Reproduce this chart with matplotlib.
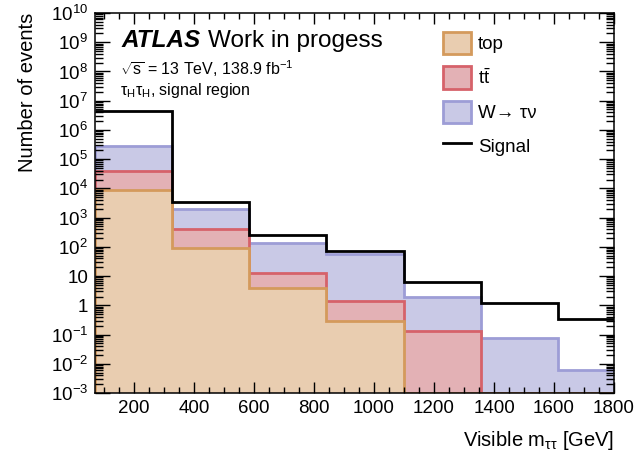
import numpy as np
import matplotlib
matplotlib.use("Agg")
import matplotlib.pyplot as plt
from matplotlib.patches import Patch
from matplotlib.lines import Line2D
from matplotlib.ticker import FuncFormatter, LogLocator, MultipleLocator

plt.rcParams["font.family"] = ["Liberation Sans", "DejaVu Sans"]
plt.rcParams["mathtext.fontset"] = "custom"
plt.rcParams["mathtext.rm"] = "Liberation Sans"
plt.rcParams["mathtext.it"] = "Liberation Sans:italic"
plt.rcParams["mathtext.bf"] = "Liberation Sans:bold"

# visible di-tau mass binning [GeV]
bin_edges = [70, 327, 584, 841, 1099, 1356, 1613, 1870]

# per-bin event yields
top_vals = [9.0e3, 93, 3.9, 0.29, 0, 0, 0]
ttbar_vals = [3.1e4, 320, 9.1, 1.1, 0.13, 0, 0]
wtaunu_vals = [2.4e5, 1.6e3, 127, 55, 1.8, 0.078, 0.0062]
signal_vals = [4.3e6, 3.5e3, 260, 72, 6.3, 1.2, 0.35]

sample_labels = ["top", r"t$\mathregular{\bar{t}}$", "W\u2192 \u03c4\u03bd", "Signal"]

YMIN, YMAX = 1e-3, 1e10
XMIN, XMAX = 70, 1800

fig = plt.figure(figsize=(6.36, 4.57), dpi=100)
ax = fig.add_axes([95 / 636, 1 - 393 / 457, 519 / 636, 380 / 457])

edges = np.array(bin_edges, dtype=float)
top = np.array(top_vals)
ttbar = np.array(ttbar_vals)
wtaunu = np.array(wtaunu_vals)

# stack: total first, then progressively smaller sums on top of it
layers = [
    (top + ttbar + wtaunu, "#c9c9e6", "#9d9dd6"),
    (top + ttbar, "#e3b1b5", "#d6626a"),
    (top, "#e9cdb0", "#d49a5c"),
]
for cum, fc, ec in layers:
    y = np.where(cum > 0, cum, YMIN)
    ax.stairs(y, edges, baseline=YMIN, fill=True, facecolor=fc,
              edgecolor=ec, linewidth=2.0)

ax.stairs(signal_vals, edges, baseline=None, color="black", linewidth=2.0)

ax.set_yscale("log")
ax.set_xlim(XMIN, XMAX)
ax.set_ylim(YMIN, YMAX)


def log_fmt(v, pos):
    e = int(round(np.log10(v)))
    if e == 0:
        return "1"
    if e == 1:
        return "10"
    return r"$\mathregular{10^{%d}}$" % e


ax.yaxis.set_major_locator(LogLocator(base=10, numticks=30))
ax.yaxis.set_minor_locator(LogLocator(base=10, subs=np.arange(2, 10), numticks=30))
ax.yaxis.set_major_formatter(FuncFormatter(log_fmt))
ax.xaxis.set_major_locator(MultipleLocator(200))
ax.xaxis.set_minor_locator(MultipleLocator(50))

ax.tick_params(axis="both", which="both", direction="in", top=True, right=True,
               labelsize=13.5, width=1.0)
ax.tick_params(axis="y", which="major", length=11, pad=5)
ax.tick_params(axis="y", which="minor", length=5.5)
ax.tick_params(axis="x", which="major", length=8, pad=5)
ax.tick_params(axis="x", which="minor", length=4)
for s in ax.spines.values():
    s.set_linewidth(1.1)

ax.text(-0.131, 1.0, "Number of events", rotation=90, ha="center", va="top",
        fontsize=14.5, transform=ax.transAxes)
ax.text(1.0, -0.125, r"Visible m$\mathregular{_{\tau\tau}}$ [GeV]", ha="right",
        va="center", fontsize=14.5, transform=ax.transAxes)

atlas = ax.text(0.052, 0.911, "ATLAS", fontsize=17.5, fontweight="bold",
                fontstyle="italic", va="baseline", transform=ax.transAxes)
ax.annotate("Work in progess", xy=(1, 0), xycoords=atlas, xytext=(5, 0),
            textcoords="offset points", fontsize=17.5, va="bottom")
ax.text(0.048, 0.837, r"$\mathregular{\sqrt{s}}$ = 13 TeV, 138.9 fb$\mathregular{^{-1}}$",
        fontsize=11.5, va="baseline", transform=ax.transAxes)
ax.text(0.048, 0.784, r"$\mathregular{\tau_{H}\tau_{H}}$, signal region",
        fontsize=11.5, va="baseline", transform=ax.transAxes)

handles = [
    Patch(facecolor="#e9cdb0", edgecolor="#d49a5c", linewidth=2.0),
    Patch(facecolor="#e3b1b5", edgecolor="#d6626a", linewidth=2.0),
    Patch(facecolor="#c9c9e6", edgecolor="#9d9dd6", linewidth=2.0),
    Line2D([], [], color="black", linewidth=2.0),
]
ax.legend(handles, sample_labels, loc="upper left", bbox_to_anchor=(0.6705, 0.95),
          frameon=False, fontsize=13.5, borderpad=0, borderaxespad=0,
          handlelength=1.5, handleheight=1.45, labelspacing=0.64,
          handletextpad=0.35)

fig.savefig("out.png", dpi=100)
